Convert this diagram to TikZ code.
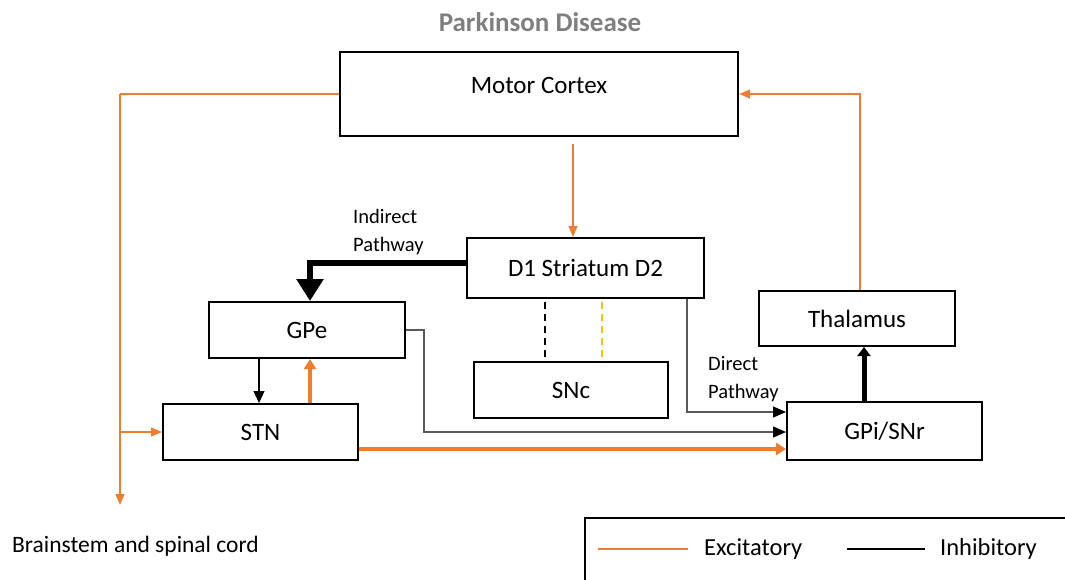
\documentclass[tikz,border=0pt]{standalone}
\usepackage{fontspec}
\setmainfont{Carlito}
\usetikzlibrary{arrows.meta,calc}
\definecolor{exc}{HTML}{ED7D31}
\definecolor{ttl}{HTML}{7F7F7F}
\definecolor{snc}{HTML}{FFC000}
\tikzset{
  box/.style={draw=black, line width=2pt, fill=white, font=\fontsize{25}{28}\selectfont},
  small/.style={font=\fontsize{20.5}{28}\selectfont, align=left, inner sep=0pt},
  exthin/.style={draw=exc, line width=1.3pt, -{Triangle[width=9pt,length=11pt]}},
  exthick/.style={draw=exc, line width=4.5pt, -{Triangle[width=12pt,length=10pt]}},
  inthin/.style={draw=black!65, line width=1.2pt, -{Triangle[width=11pt,length=13pt,color=black]}},
  inthick/.style={draw=black, line width=5pt, -{Triangle[width=13pt,length=9pt]}},
}
\begin{document}
\begin{tikzpicture}[x=1pt,y=-1pt]
\useasboundingbox (0,0) rectangle (1065,579);
% title
\node[font=\fontsize{27}{30}\selectfont\bfseries, text=ttl] (title) at (540,22) {Parkinson Disease};
% boxes
\node[box, minimum width=398pt, minimum height=84pt, line width=2.4pt, text depth=18pt] (mc) at (539,94) {Motor Cortex};
\node[box, minimum width=237pt, minimum height=60pt] (str) at (585.5,268) {D1 Striatum D2};
\node[box, minimum width=196pt, minimum height=56pt] (gpe) at (307,330) {GPe};
\node[box, minimum width=195pt, minimum height=56pt] (stn) at (260.5,432) {STN};
\node[box, minimum width=194pt, minimum height=56pt] (snc) at (571,390) {SNc};
\node[box, minimum width=195pt, minimum height=58pt] (gpi) at (884.5,431) {GPi/SNr};
\node[box, minimum width=196pt, minimum height=55pt] (th) at (857,318.5) {Thalamus};
% labels
\node[small, anchor=west] (ind) at (353,232) {Indirect\\Pathway};
\node[small, anchor=west] (dir) at (708,379) {Direct\\Pathway};
\node[font=\fontsize{23.5}{26}\selectfont, anchor=west, inner sep=0pt] (bs) at (12,546) {Brainstem and spinal cord};
% coordinates
\coordinate (bsarrow) at (120,505);
\coordinate (lcorner) at (120,94);
\coordinate (lbranch) at (120,432);
% motor cortex -> brainstem & STN
\draw[draw=exc, line width=1.3pt] (mc.west) -- (lcorner);
\draw[exthin] (lcorner) -- (bsarrow);
\draw[exthin] (lbranch) -- (stn.west);
% motor cortex -> striatum
\draw[exthin] ([shift={(34pt,-7pt)}]mc.south) -- ([xshift=-12.5pt]str.north);
% thalamus -> motor cortex
\draw[exthin] ([xshift=3pt]th.north) |- (mc.east);
% indirect pathway
\draw[draw=black, line width=6pt, -{Triangle[width=26pt,length=22pt]}] ([yshift=5pt]str.west) -| ([xshift=3pt]gpe.north);
% dashed to SNc
\draw[black, line width=2pt, dash pattern=on 7pt off 5pt] ([xshift=-40.5pt,yshift=-3pt]str.south) -- ([xshift=-26pt]snc.north);
\draw[snc, line width=2pt, dash pattern=on 7pt off 5pt] ([xshift=16.5pt,yshift=-3pt]str.south) -- ([xshift=31pt]snc.north);
% GPe -> STN
\draw[draw=black, line width=1.2pt, -{Triangle[width=11pt,length=12pt]}] ([xshift=-48pt]gpe.south) -- ([xshift=-1.5pt]stn.north);
% STN -> GPe
\draw[exthick] ([xshift=49.5pt]stn.north) -- ([xshift=3pt]gpe.south);
% GPe -> GPi
\draw[inthin] (gpe.east) -- ++(18pt,0) |- ([yshift=-1pt]gpi.west);
% Striatum -> GPi direct
\draw[inthin] ([xshift=101.5pt]str.south) |- ([yshift=19pt]gpi.west);
% STN -> GPi
\draw[exthick] ([yshift=-17pt]stn.east) -- ([yshift=-18pt]gpi.west);
% GPi -> Thalamus
\draw[inthick] ([xshift=-20.5pt]gpi.north) -- ([xshift=7pt]th.south);
% legend
\draw[black, line width=2pt] (585,590) -- (585,518) -- (1075,518);
\coordinate (l1a) at (598,549);
\coordinate (l1b) at (688,549);
\coordinate (l2a) at (847,549);
\coordinate (l2b) at (925,549);
\draw[exc, line width=2.5pt] (l1a) -- (l1b);
\draw[black, line width=2.5pt] (l2a) -- (l2b);
\node[font=\fontsize{24.5}{26}\selectfont, anchor=west, inner sep=0pt] (lex) at (704,549) {Excitatory};
\node[font=\fontsize{24.5}{26}\selectfont, anchor=west, inner sep=0pt] (lin) at (940,549) {Inhibitory};
\end{tikzpicture}
\end{document}
